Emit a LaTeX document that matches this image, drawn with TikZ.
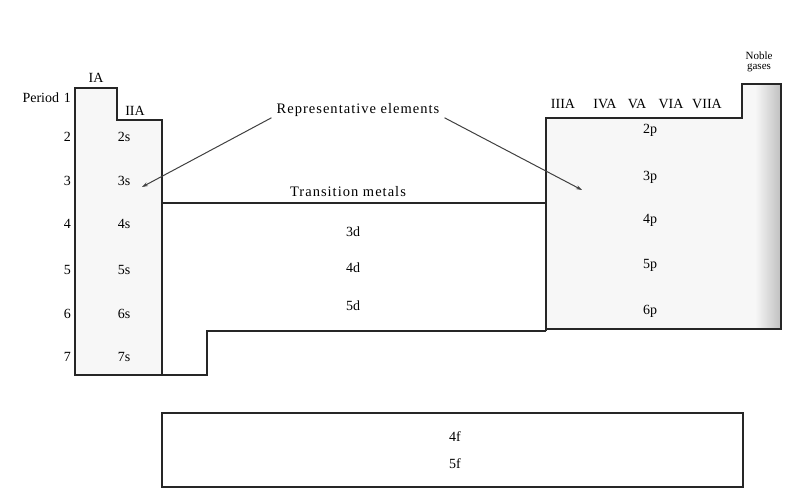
\documentclass[tikz,border=0pt]{standalone}
\usepackage{fontspec}
\setmainfont{Liberation Serif}
\newfontfamily\spaced[LetterSpace=7]{Liberation Serif}
\usetikzlibrary{arrows.meta}
\tikzset{
  lbl/.style={inner sep=0pt, font=\fontsize{14}{16}\selectfont},
  big/.style={inner sep=0pt, font=\spaced\fontsize{14.5}{16}\selectfont},
  small/.style={inner sep=0pt, font=\fontsize{11}{10}\selectfont, align=center},
  blk/.style={draw=black!85, line width=1.2pt},
  arr/.style={draw=black!75, line width=1pt, -{Stealth[length=6pt,width=4pt]}}
}
\begin{document}
\begin{tikzpicture}[x=1pt,y=-1pt]
\useasboundingbox (0,0) rectangle (789,497);
% s block
\fill[gray!6] (75,88) -- (117,88) -- (117,120) -- (162,120) -- (162,375) -- (75,375) -- cycle;
\draw[blk] (75,88) -- (117,88) -- (117,120) -- (162,120) -- (162,375) -- (75,375) -- cycle;
% transition block
\draw[blk] (162,203) -- (546,203);
\draw[blk] (162,375) -- (207,375) -- (207,331) -- (546,331);
% p block
\fill[gray!6] (546,118) -- (742,118) -- (742,84) -- (781,84) -- (781,329) -- (546,329) -- cycle;
\shade[left color=gray!6, right color=gray!50] (755,84) rectangle (781,329);
\draw[blk] (546,331) -- (546,118) -- (742,118) -- (742,84) -- (781,84) -- (781,329) -- (546,329);
% f block
\draw[blk] (162,413) rectangle (743,487);

% labels
\node[lbl, anchor=east] (per1) at (71,98) {Period\,\,1};
\foreach \n/\y in {2/137,3/181,4/224,5/270,6/314,7/357}{
  \node[lbl, anchor=east] (per\n) at (71,\y) {\n};
  \node[lbl] (s\n) at (124,\y) {\n s};
}
\node[lbl] (IA) at (96,78) {IA};
\node[lbl] (IIA) at (135,111) {IIA};
\node[lbl] (IIIA) at (563,104) {IIIA};
\node[lbl] (IVA) at (605,104) {IVA};
\node[lbl] (VA) at (637,104) {VA};
\node[lbl] (VIA) at (671,104) {VIA};
\node[lbl] (VIIA) at (707,104) {VIIA};
\node[small] (noble) at (759,62) {Noble\\gases};

\node[big] (rep) at (358,110) {Representative elements};
\node[big] (trans) at (348,192) {Transition metals};

\foreach \n/\y in {3/232,4/268,5/306}{
  \node[lbl] (d\n) at (353,\y) {\n d};
}
\foreach \n/\y in {2/130,3/177,4/220,5/265,6/311}{
  \node[lbl] (p\n) at (650,\y) {\n p};
}
\node[lbl] (f4) at (455,437) {4f};
\node[lbl] (f5) at (455,464) {5f};

\coordinate (la) at (142,187);
\coordinate (ra) at (582,190);
\draw[arr] ([xshift=-5pt,yshift=-1pt]rep.south west) -- (la);
\draw[arr] ([xshift=5pt,yshift=-1pt]rep.south east) -- (ra);
\end{tikzpicture}
\end{document}
